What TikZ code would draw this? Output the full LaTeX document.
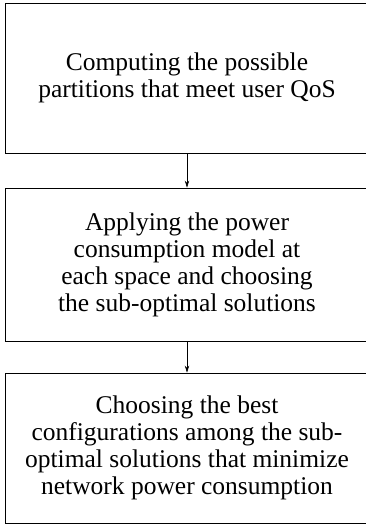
\documentclass[tikz,border=0pt]{standalone}
\usepackage{fontspec}
\setmainfont{Liberation Serif}
\usetikzlibrary{arrows.meta}
\begin{document}
\begin{tikzpicture}[x=1pt, y=1pt,
    stepbox/.style={draw, line width=0.8pt, minimum width=364pt, inner sep=0pt, align=center, font=\fontsize{25.5}{27}\selectfont},
    flow/.style={-{Stealth[length=7pt, width=4.5pt]}, line width=0.7pt}]
    \useasboundingbox (0,0) rectangle (365,-527);
    % Steps
    \node[stepbox, minimum height=150pt] (compute) at (187,-78) {Computing the possible\\partitions that meet user QoS};
    \node[stepbox, minimum height=153pt] (apply) at (187,-264.5) {Applying the power\\consumption model at\\each space and choosing\\the sub-optimal solutions};
    \node[stepbox, minimum height=150pt] (choose) at (187,-448) {Choosing the best\\configurations among the sub-\\optimal solutions that minimize\\network power consumption};
    % Arrows
    \draw[flow] (compute) -- (apply);
    \draw[flow] (apply) -- (choose);
\end{tikzpicture}
\end{document}
